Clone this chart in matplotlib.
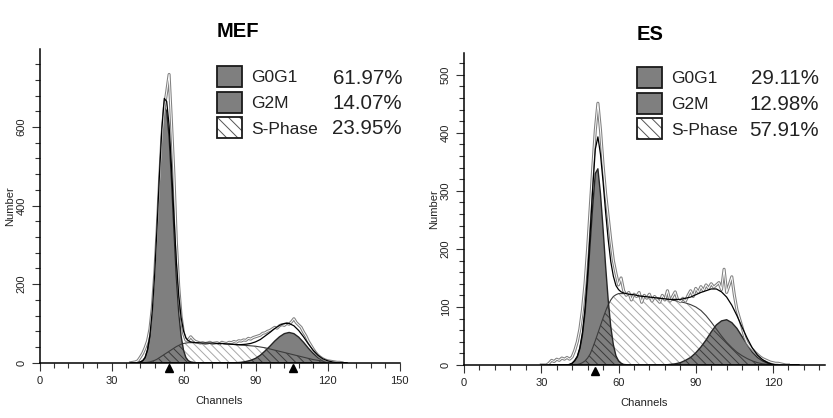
import numpy as np
import matplotlib
matplotlib.use("Agg")
import matplotlib.pyplot as plt
import matplotlib.transforms as mtransforms
from matplotlib.patches import Rectangle
from matplotlib.ticker import MultipleLocator

plt.rcParams['font.family'] = ['Liberation Sans', 'DejaVu Sans']
plt.rcParams['hatch.linewidth'] = 0.7

# ------------------------------------------------------------------ #
# Data
# ------------------------------------------------------------------ #
phase_labels = ['G0G1', 'G2M', 'S-Phase']

# MEF: model components on a shared channel grid
mef_ch = [38, 40, 41, 42, 43, 44, 45, 46, 47, 48, 49, 50, 51, 52, 53, 54, 55,
          56, 57, 58, 59, 60, 61, 62, 63, 64, 65, 66,
          68, 70, 72, 74, 76, 78, 80, 82, 84, 86, 88, 90, 92, 94, 96, 98, 100,
          102, 104, 106, 108, 110, 112, 114, 116, 118, 120, 122, 124, 126, 128]
mef_g0g1 = [0, 0, 0, 2, 5, 13, 32, 68, 129, 220, 339, 468, 580, 652, 640, 575, 465,
            339, 220, 129, 68, 32, 13, 5, 2, 1, 0, 0,
            0, 0, 0, 0, 0, 0, 0, 0, 0, 0, 0, 0, 0, 0, 0, 0, 0,
            0, 0, 0, 0, 0, 0, 0, 0, 0, 0, 0, 0, 0, 0]
mef_sphase = [0, 0, 0, 0, 0, 0, 1, 2, 4, 6, 9, 13, 17, 21, 25, 29, 33,
              37, 41, 44, 47, 49, 50, 51, 51, 51, 51, 51,
              50, 50, 50, 49, 49, 48, 47, 46, 45, 44, 43, 42, 40, 38, 35, 32, 29,
              26, 23, 20, 17, 14, 11, 8, 6, 4, 2, 1, 0, 0, 0]
mef_g2m = [0, 0, 0, 0, 0, 0, 0, 0, 0, 0, 0, 0, 0, 0, 0, 0, 0,
           0, 0, 0, 0, 0, 0, 0, 0, 0, 0, 0,
           0, 0, 0, 0, 0, 0, 0, 0, 1, 3, 6, 11, 19, 30, 42, 55, 66,
           74, 77, 74, 65, 52, 37, 24, 13, 6, 3, 1, 0, 0, 0]
# MEF: raw counts, one per channel from 38 to 126
mef_raw_ch = list(range(38, 127))
mef_raw = [0, 1, 2, 5, 14, 24, 38, 55, 85, 140, 225, 335, 460, 575, 650, 690, 734,
           610, 480, 310, 195, 118, 75, 57, 58, 66, 59, 54, 52, 50, 51, 49, 50,
           52, 49, 50, 51, 48, 52, 50, 49, 52, 51, 54, 52, 56, 55, 58, 57, 62,
           60, 64, 66, 68, 70, 75, 76, 80, 82, 86, 90, 88, 94, 97, 95, 100, 98,
           104, 112, 102, 96, 90, 78, 68, 55, 45, 35, 26, 19, 14, 10, 7, 5, 4,
           3, 2, 1, 1, 0]
mef_pct = ['61.97%', '14.07%', '23.95%']
mef_peaks = [54, 105.5]

# ES: model components on a shared channel grid
es_ch = [30, 32, 34, 36, 38, 40, 41, 42, 43, 44, 45, 46, 47, 48, 49, 50, 51, 52,
         53, 54, 55, 56, 57, 58, 59, 60, 61, 62,
         64, 66, 68, 70, 72, 74, 76, 78, 80, 82, 84, 86, 88, 90, 92, 94, 96, 98,
         100, 102, 104, 106, 108, 110, 112, 114, 116, 118, 120, 122, 124, 126,
         128, 130]
es_g0g1 = [0, 0, 0, 0, 0, 0, 1, 3, 7, 14, 28, 52, 90, 145, 210, 275, 330, 338,
           295, 235, 170, 112, 66, 35, 16, 7, 3, 1,
           0, 0, 0, 0, 0, 0, 0, 0, 0, 0, 0, 0, 0, 0, 0, 0, 0, 0,
           0, 0, 0, 0, 0, 0, 0, 0, 0, 0, 0, 0, 0, 0, 0, 0]
es_sphase = [0, 0, 0, 0, 0, 0, 0, 0, 1, 1, 2, 4, 7, 12, 19, 30, 42, 55,
             68, 81, 93, 104, 112, 118, 121, 123, 123, 123,
             122, 121, 119, 118, 117, 116, 115, 114, 112, 111, 109, 107, 104, 100,
             94, 85, 74, 62, 50, 39, 30, 22, 16, 11, 7, 4, 2, 1, 0, 0, 0, 0, 0, 0]
es_g2m = [0, 0, 0, 0, 0, 0, 0, 0, 0, 0, 0, 0, 0, 0, 0, 0, 0, 0,
          0, 0, 0, 0, 0, 0, 0, 0, 0, 0,
          0, 0, 0, 0, 0, 0, 0, 0, 1, 2, 4, 8, 13, 21, 31, 43, 57, 69,
          76, 78, 73, 63, 49, 35, 22, 13, 7, 3, 1, 0, 0, 0, 0, 0]
# ES: raw counts, one per channel from 30 to 126
es_raw_ch = list(range(30, 127))
es_raw = [0, 0, 0, 3, 8, 6, 10, 8, 12, 10, 13, 10, 14, 25, 40, 62, 95, 140, 200,
          270, 340, 405, 451, 405, 345, 295, 255, 215, 180, 158, 138, 150, 128,
          120, 125, 112, 122, 118, 125, 108, 120, 115, 122, 110, 118, 113, 108,
          120, 112, 128, 110, 118, 126, 112, 109, 115, 110, 120, 128, 118, 132,
          125, 135, 128, 138, 132, 140, 134, 138, 142, 130, 165, 125, 138, 152,
          120, 95, 80, 65, 48, 38, 32, 27, 22, 18, 14, 11, 9, 7, 5, 4, 3, 3, 2,
          1, 0, 0]
es_pct = ['29.11%', '12.98%', '57.91%']
es_peaks = [51]

W, H = 833, 418
GRAY = '#7f7f7f'
HATCH = '\\\\\\\\'


def panel(ax, ch, g1, s, g2, raw_ch, raw, peaks, title, title_x):
    ch = np.asarray(ch, float)
    g1, s, g2 = (np.asarray(a, float) for a in (g1, s, g2))

    # S-phase (white, light hatch), then the G0G1 / G2M peaks in grey
    ax.fill_between(ch, 0, s, facecolor='white', edgecolor='#a8a8a8',
                    hatch=HATCH, lw=0)
    ax.fill_between(ch, 0, g1, facecolor=GRAY, edgecolor='none', lw=0)
    ax.fill_between(ch, 0, g2, facecolor=GRAY, edgecolor='none', lw=0)
    # where S-phase lies under a peak: dark hatch
    ax.fill_between(ch, 0, np.minimum(s, g1 + g2), facecolor='none',
                    edgecolor='#3a3a3a', hatch=HATCH, lw=0)
    ax.plot(ch, s, color='#3c3c3c', lw=0.8)
    ax.plot(ch, g1, color='#262626', lw=1.0)
    ax.plot(ch, g2, color='#262626', lw=1.0)

    # raw histogram as a hollow grey line, fitted sum in black
    ax.plot(raw_ch, raw, color='#808080', lw=2.2, solid_joinstyle='round')
    ax.plot(raw_ch, raw, color='white', lw=0.7)
    ax.plot(ch, g1 + s + g2, color='black', lw=0.9)

    trans = mtransforms.blended_transform_factory(ax.transData, ax.transAxes)
    ax.plot(peaks, [-0.0185] * len(peaks), ls='none', marker='^', ms=6,
            color='black', transform=trans, clip_on=False)

    ax.xaxis.set_major_locator(MultipleLocator(30))
    ax.xaxis.set_minor_locator(MultipleLocator(6))
    for side in ('top', 'right'):
        ax.spines[side].set_visible(False)
    for side in ('left', 'bottom'):
        ax.spines[side].set_linewidth(1.1)
    ax.tick_params(which='major', length=6, width=0.8, color='#333333',
                   labelsize=8, labelcolor='#222222')
    ax.tick_params(which='minor', length=3.5, width=0.8, color='#333333')
    for lab in ax.get_yticklabels():
        lab.set_rotation(90)
        lab.set_va('center')

    ax.set_xlabel('Channels', fontsize=8, color='#222222')
    ax.set_ylabel('Number', fontsize=8, color='#222222')
    ax.xaxis.set_label_coords(0.5, -0.105)
    ax.yaxis.set_label_coords(-0.068, 0.5)
    ax.text(title_x, 1 + 18 / 313, title, transform=ax.transAxes,
            ha='center', va='center', fontsize=14.5, fontweight='bold')


def legend(fig, x0, tops, label_x, pct_right, pct):
    for i, top in enumerate(tops):
        xy = (x0 / W, 1 - (top + 21) / H)
        w, h = 25 / W, 21 / H
        if i < 2:
            fig.add_artist(Rectangle(xy, w, h, transform=fig.transFigure,
                                     facecolor=GRAY, edgecolor='#1a1a1a', lw=1.3))
        else:
            fig.add_artist(Rectangle(xy, w, h, transform=fig.transFigure,
                                     facecolor='white', edgecolor='#555555',
                                     hatch='\\\\\\', lw=0))
            fig.add_artist(Rectangle(xy, w, h, transform=fig.transFigure,
                                     facecolor='none', edgecolor='#1a1a1a', lw=1.3))
        yc = 1 - (top + 12) / H
        fig.text(label_x / W, yc, phase_labels[i], ha='left', va='center',
                 fontsize=12.5, color='#222222')
        fig.text(pct_right / W, yc, pct[i], ha='right', va='center',
                 fontsize=14.8, color='#222222')


fig = plt.figure(figsize=(W / 100, H / 100), dpi=100)

ax1 = fig.add_axes([39.5 / W, 1 - 362.7 / H, 360 / W, 313.4 / H])
ax1.set_xlim(0, 150)
ax1.set_ylim(0, 798)
ax1.set_yticks([0, 200, 400, 600])
ax1.yaxis.set_minor_locator(MultipleLocator(40))
panel(ax1, mef_ch, mef_g0g1, mef_sphase, mef_g2m, mef_raw_ch, mef_raw,
      mef_peaks, 'MEF', 0.551)

ax2 = fig.add_axes([464 / W, 1 - 365 / H, 360.5 / W, 312.3 / H])
ax2.set_xlim(0, 140)
ax2.set_ylim(0, 538)
ax2.set_yticks([0, 100, 200, 300, 400, 500])
ax2.yaxis.set_minor_locator(MultipleLocator(20))
panel(ax2, es_ch, es_g0g1, es_sphase, es_g2m, es_raw_ch, es_raw,
      es_peaks, 'ES', 0.517)

legend(fig, 217, [66, 91.5, 117], 251.5, 402, mef_pct)
legend(fig, 637, [66.7, 92.5, 118.3], 671.3, 818.7, es_pct)

fig.savefig('out.png', dpi=100)
